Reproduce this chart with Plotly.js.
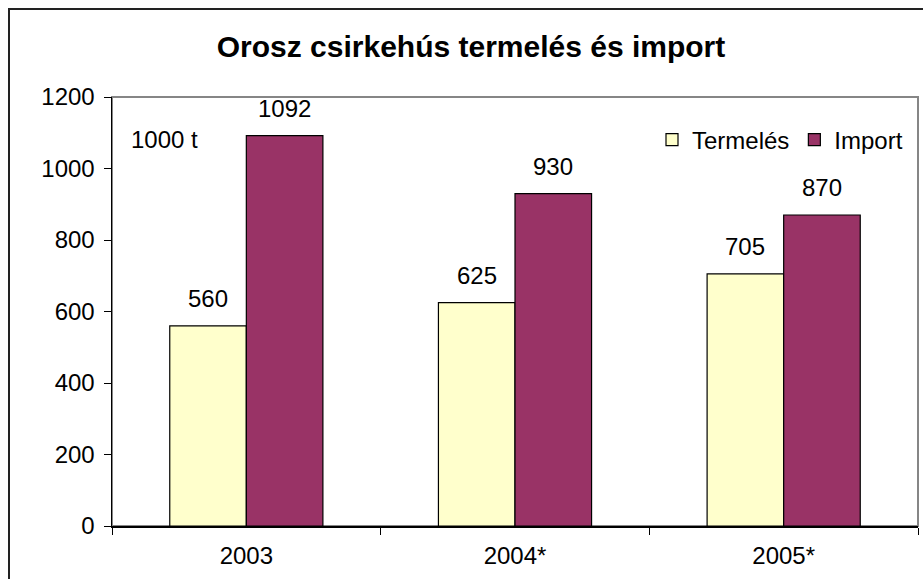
<!DOCTYPE html>
<html>
<head>
<meta charset="utf-8">
<script src="https://cdn.plot.ly/plotly-3.0.1.min.js"></script>
<style>html,body{margin:0;padding:0;background:#fff}#chart{width:923px;height:579px}</style>
</head>
<body>
<div id="chart"></div>
<script>
const categories = ['2003', '2004*', '2005*'];
const termeles = [560, 625, 705];
const importVals = [1092, 930, 870];
const seriesNames = ['Termelés', 'Import'];
const yTicks = [0, 200, 400, 600, 800, 1000, 1200];
const unitLabel = '1000 t';
const chartTitle = 'Orosz csirkehús termelés és import';

const FONT = 'Liberation Sans, Arial, sans-serif';
const ml = 112, mr = 5, mt = 97, mb = 53, W = 923, H = 579;
const plotW = W - ml - mr, plotH = H - mt - mb;
const bargap = 0.43;
const catW = plotW / categories.length;
const barW = catW * (1 - bargap) / 2;

const traces = [
  {type: 'bar', name: seriesNames[0], x: categories, y: termeles,
   marker: {color: '#FFFFCC', line: {color: '#000', width: 1.2}}, hoverinfo: 'y'},
  {type: 'bar', name: seriesNames[1], x: categories, y: importVals,
   marker: {color: '#993366', line: {color: '#000', width: 1.2}}, hoverinfo: 'y'}
];

const annotations = [];
[termeles, importVals].forEach((vals, s) => {
  vals.forEach((v, i) => {
    annotations.push({x: i, y: v, xref: 'x', yref: 'y', text: String(v),
      showarrow: false, xshift: (s === 0 ? -1 : 1) * barW / 2, yshift: 27,
      yanchor: 'middle', font: {family: FONT, size: 24, color: '#000'}});
  });
});
annotations.push({xref: 'paper', yref: 'paper', x: (129 - ml) / plotW, y: (H - mb - 139) / plotH,
  xanchor: 'left', yanchor: 'middle', text: unitLabel, showarrow: false,
  font: {family: FONT, size: 24, color: '#000'}});

const layout = {
  width: W, height: H,
  margin: {l: ml, r: mr, t: mt, b: mb, pad: 0},
  paper_bgcolor: '#fff', plot_bgcolor: '#fff',
  font: {family: FONT, size: 24, color: '#000'},
  title: {text: '<b>' + chartTitle + '</b>', x: 471 / W, xanchor: 'center', y: 1 - 46 / H, yanchor: 'middle',
    xref: 'container', yref: 'container', font: {family: FONT, size: 30, color: '#000'}},
  barmode: 'group', bargap: bargap, bargroupgap: 0,
  xaxis: {type: 'category', categoryorder: 'array', categoryarray: categories,
    range: [-0.5, categories.length - 0.5], autorange: false,
    tickson: 'boundaries', ticks: 'outside', ticklen: 7, tickcolor: '#000',
    showline: true, linecolor: '#000', linewidth: 1.5, showgrid: false, zeroline: false,
    tickfont: {family: FONT, size: 24, color: '#000'}, ticklabelstandoff: 8, fixedrange: true},
  yaxis: {range: [0, 1200], autorange: false, tickvals: yTicks, ticks: 'outside', ticklen: 7, tickcolor: '#000',
    showline: true, linecolor: '#000', linewidth: 1.5, showgrid: false, zeroline: false,
    tickfont: {family: FONT, size: 24, color: '#000'}, ticklabelstandoff: 4, fixedrange: true},
  legend: {orientation: 'h', x: (908 - ml) / plotW, xanchor: 'right', y: (H - mb - 140) / plotH, yanchor: 'middle',
    bgcolor: 'rgba(0,0,0,0)', font: {family: FONT, size: 24, color: '#000'}, itemwidth: 30,
    traceorder: 'normal'},
  showlegend: true,
  annotations: annotations,
  shapes: [
    {type: 'rect', xref: 'paper', yref: 'paper', x0: 0, x1: 1, y0: 0, y1: 1,
     line: {color: '#868686', width: 2}, layer: 'below'},
    {type: 'rect', xref: 'paper', yref: 'paper', x0: (9 - ml) / plotW, x1: 1.2,
     y0: -0.3, y1: (H - mb - 9) / plotH, line: {color: '#222', width: 2}, layer: 'above'}
  ]
};

Plotly.newPlot('chart', traces, layout, {displayModeBar: false, staticPlot: true});
</script>
</body>
</html>
